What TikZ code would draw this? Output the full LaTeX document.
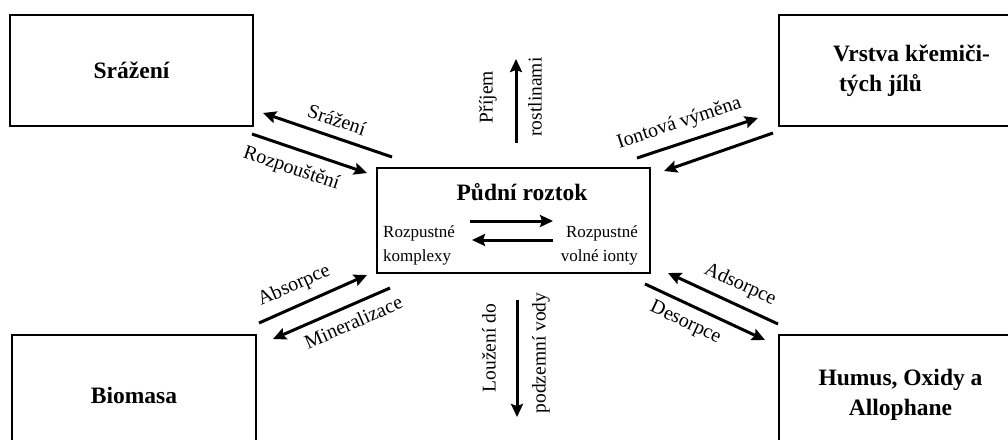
\documentclass[tikz,border=0pt]{standalone}
\usepackage{fontspec}
\setmainfont{Liberation Serif}
\usetikzlibrary{arrows.meta}
\tikzset{
  node-box/.style={draw=black,line width=1.8pt,align=center,
    font=\fontsize{23.5}{30}\selectfont\bfseries},
  node-title/.style={inner sep=0pt,font=\fontsize{23.5}{30}\selectfont\bfseries},
  node-text/.style={inner sep=0pt,font=\fontsize{17}{24}\selectfont},
  arrow/.style={-{Stealth[length=13pt,width=12pt,inset=2pt]},line width=3pt,draw=black},
  arrow-label/.style={font=\fontsize{20}{22}\selectfont,sloped,inner sep=0pt},
  vert-label/.style={font=\fontsize{19.5}{22}\selectfont,rotate=90,inner sep=0pt},
}

\begin{document}
\begin{tikzpicture}[x=1pt,y=-1pt]
  \clip (0,0) rectangle (1008,439);
  \fill[white] (0,0) rectangle (1008,439);
  % outer boxes
  \node[node-box,minimum width=243pt,minimum height=111pt] (srazeni) at (131.5,70.5) {Srážení};
  \node[node-box,minimum width=243pt,minimum height=111pt,align=left] (vrstva) at (900.5,70.5)
    {\hspace*{22pt}Vrstva křemiči-\\\hspace*{28pt}tých jílů};
  \node[node-box,minimum width=244pt,minimum height=120pt] (biomasa) at (134,395) {Biomasa};
  \node[node-box,minimum width=243pt,minimum height=120pt] (humus) at (900.5,395)
    {Humus, Oxidy a\\Allophane};
  % soil solution
  \node[draw=black,line width=1.6pt,minimum width=273pt,minimum height=105pt] (roztok) at (513.5,220.5) {};
  \node[node-title] (roztok-title) at (522,192) {Půdní roztok};
  \node[node-text,anchor=west,align=left] (komplexy) at (383,245) {Rozpustné\\komplexy};
  \node[node-text,anchor=east,align=right] (ionty) at (638,245) {Rozpustné\\volné ionty};
  % arrow ends
  \coordinate (in-a) at (470,221);  \coordinate (in-b) at (553,221);
  \coordinate (out-a) at (553,240); \coordinate (out-b) at (472,240);
  \coordinate (sr-a) at (392,157);  \coordinate (sr-b) at (263,113);
  \coordinate (rp-a) at (252,134);  \coordinate (rp-b) at (367,173);
  \coordinate (io-a) at (637,158);  \coordinate (io-b) at (758,118);
  \coordinate (iv-a) at (773,133);  \coordinate (iv-b) at (664,171);
  \coordinate (ab-a) at (259,323);  \coordinate (ab-b) at (367,275);
  \coordinate (mi-a) at (390,288);  \coordinate (mi-b) at (273,339);
  \coordinate (ad-a) at (778,324);  \coordinate (ad-b) at (668,273);
  \coordinate (de-a) at (645,284);  \coordinate (de-b) at (765,340);
  \coordinate (up-a) at (516,143);  \coordinate (up-b) at (516,59);
  \coordinate (dn-a) at (517,300);  \coordinate (dn-b) at (517,417);
  % arrows
  \draw[arrow] (in-a) -- (in-b);
  \draw[arrow] (out-a) -- (out-b);
  \draw[arrow] (sr-a) -- node[arrow-label,above=9pt,pos=0.47] {Srážení} (sr-b);
  \draw[arrow] (rp-a) -- node[arrow-label,below=10pt,pos=0.4] {Rozpouštění} (rp-b);
  \draw[arrow] (io-a) -- node[arrow-label,above=9pt,pos=0.4] {Iontová výměna} (io-b);
  \draw[arrow] (iv-a) -- (iv-b);
  \draw[arrow] (ab-a) -- node[arrow-label,above=9pt,pos=0.4] {Absorpce} (ab-b);
  \draw[arrow] (mi-a) -- node[arrow-label,below=8pt,pos=0.37] {Mineralizace} (mi-b);
  \draw[arrow] (ad-a) -- node[arrow-label,above=9pt,pos=0.42] {Adsorpce} (ad-b);
  \draw[arrow] (de-a) -- node[arrow-label,below=8pt,pos=0.4] {Desorpce} (de-b);
  \draw[arrow] (up-a) -- (up-b);
  \draw[arrow] (dn-a) -- (dn-b);
  % vertical labels
  \node[vert-label] (prijem) at (488,97) {Příjem};
  \node[vert-label] (rostlinami) at (535,97) {rostlinami};
  \node[vert-label] (louzeni) at (489,348) {Loužení do};
  \node[vert-label] (podzemni) at (541,353) {podzemní vody};
\end{tikzpicture}
\end{document}
